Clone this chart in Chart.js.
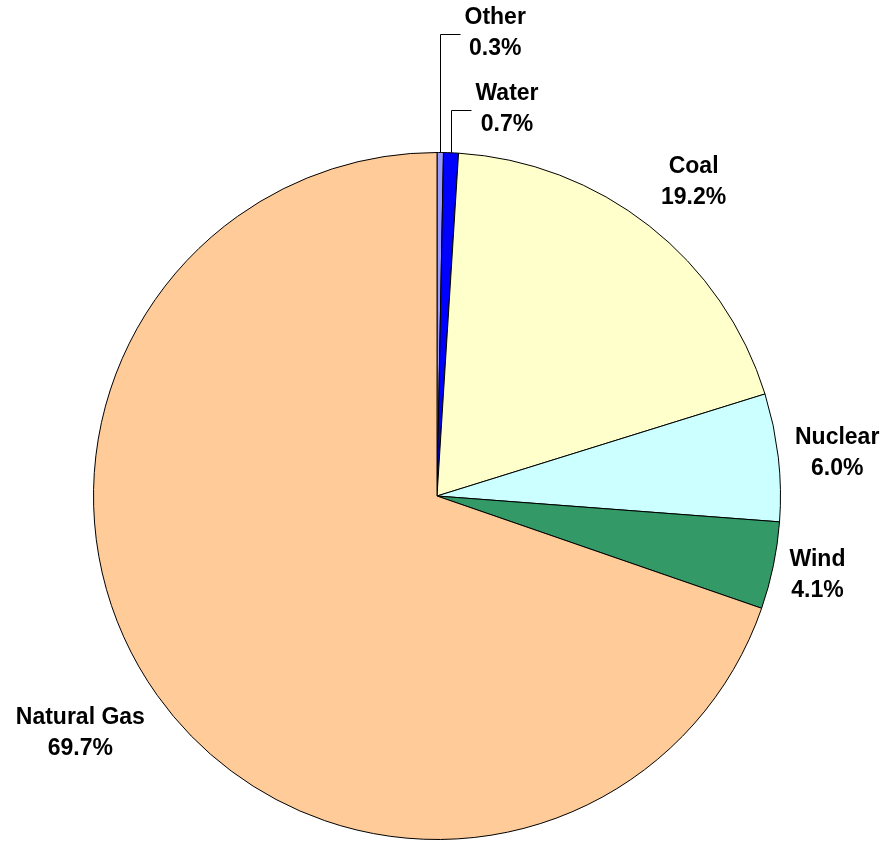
<!DOCTYPE html>
<html lang="en">
<head>
    <meta charset="UTF-8">
    <title>Generation mix</title>
    <style>
        html, body { margin: 0; padding: 0; background: #fff; }
        #wrap { width: 886px; height: 841px; position: relative; }
    </style>
    <script src="https://cdn.jsdelivr.net/npm/chart.js@4.4.0/dist/chart.umd.min.js"></script>
</head>
<body>
    <div id="wrap">
        <canvas id="pie-chart" width="886" height="841"></canvas>
    </div>
    <script>
        // data, clockwise from 12 o'clock
        const sources = ['Other', 'Water', 'Coal', 'Nuclear', 'Wind', 'Natural Gas'];
        const shares = [0.3, 0.7, 19.2, 6.0, 4.1, 69.7];
        const sliceColors = ['#9999FF', '#0000FF', '#FFFFCC', '#CCFFFF', '#339966', '#FFCC99'];

        // label placement: distance beyond the rim, small turn (deg), leader line or not
        const labelGap = [119, 43, 62, 59, 45, 85];
        const labelTurn = [0, 0, 1.1, 0.3, 0, 1.8];
        const useLeader = [true, true, false, false, false, false];

        const labelPlugin = {
            id: 'sliceLabels',
            afterDraw(chart) {
                const ctx = chart.ctx;
                const meta = chart.getDatasetMeta(0);
                ctx.save();
                ctx.font = 'bold 23px "Liberation Sans", Arial, sans-serif';
                ctx.fillStyle = '#000';
                ctx.strokeStyle = '#000';
                ctx.lineWidth = 1;
                ctx.textBaseline = 'middle';
                ctx.textAlign = 'center';
                const lh = 31;
                meta.data.forEach((arc, i) => {
                    const p = arc.getProps(['x', 'y', 'startAngle', 'endAngle', 'outerRadius'], true);
                    const mid = (p.startAngle + p.endAngle) / 2 + labelTurn[i] * Math.PI / 180;
                    const lines = [sources[i], shares[i].toFixed(1) + '%'];
                    const w = Math.max(...lines.map(t => ctx.measureText(t).width));
                    let cx, cy;
                    if (useLeader[i]) {
                        const ex = p.x + Math.cos(mid) * p.outerRadius;
                        const ey = p.y + Math.sin(mid) * p.outerRadius;
                        const top = p.y - (p.outerRadius + labelGap[i]);
                        const hx = Math.round(ex) + 0.5;
                        ctx.beginPath();
                        ctx.moveTo(hx, ey);
                        ctx.lineTo(hx, Math.round(top) + 0.5);
                        ctx.lineTo(hx + 20, Math.round(top) + 0.5);
                        ctx.stroke();
                        cx = hx + 24 + w / 2;
                        cy = top;
                    } else {
                        const rr = p.outerRadius + labelGap[i];
                        cx = p.x + Math.cos(mid) * rr;
                        cy = p.y + Math.sin(mid) * rr;
                    }
                    ctx.fillText(lines[0], cx, cy - lh / 2);
                    ctx.fillText(lines[1], cx, cy + lh / 2);
                });
                ctx.restore();
            }
        };

        new Chart(document.getElementById('pie-chart').getContext('2d'), {
            type: 'pie',
            data: {
                labels: sources,
                datasets: [{
                    data: shares,
                    backgroundColor: sliceColors,
                    borderColor: '#000',
                    borderWidth: 1
                }]
            },
            options: {
                responsive: false,
                animation: false,
                layout: {
                    padding: { left: 93, right: 105, top: 152, bottom: 1 }
                },
                plugins: {
                    legend: { display: false },
                    tooltip: { enabled: false }
                }
            },
            plugins: [labelPlugin]
        });
    </script>
</body>
</html>
